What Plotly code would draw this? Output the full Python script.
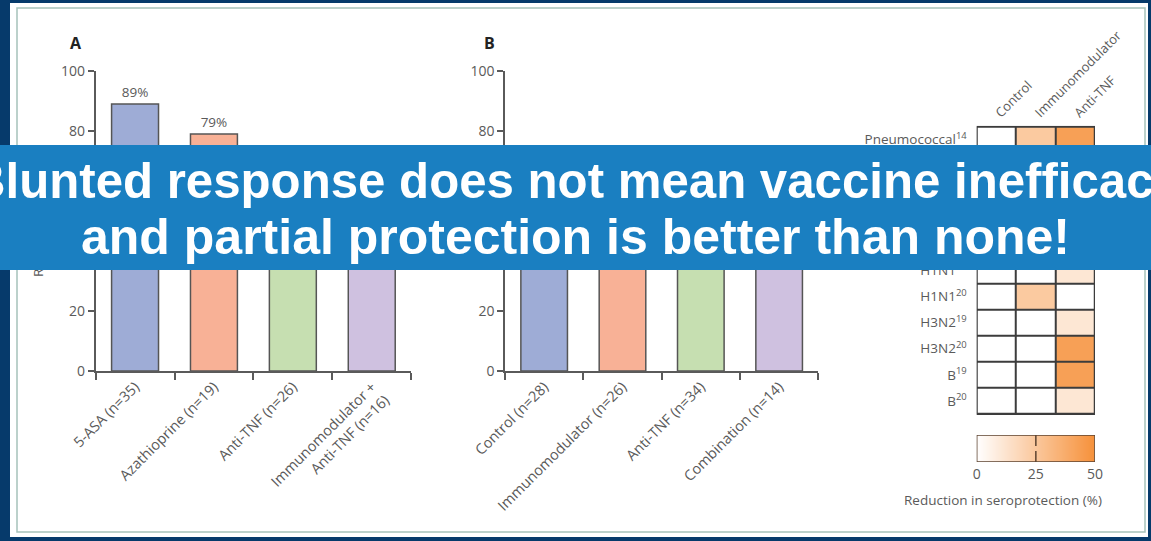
import plotly.graph_objects as go

# ---- Panel A: response rate by treatment ----
a_groups = ["5-ASA (n=35)", "Azathioprine (n=19)", "Anti-TNF (n=26)",
            "Immunomodulator +<br>Anti-TNF (n=16)"]
a_rates = [89, 79, 64, 57]

# ---- Panel B: response rate by treatment ----
b_groups = ["Control (n=28)", "Immunomodulator (n=26)", "Anti-TNF (n=34)",
            "Combination (n=14)"]
b_rates = [61, 58, 52, 43]

bar_colors = ["#9eacd6", "#f8b196", "#c6dfb1", "#cfc1e0"]
rate_ticks = [0, 20, 40, 60, 80, 100]

# ---- Panel C: reduction in seroprotection (%) ----
hm_columns = ["Control", "Immunomodulator", "Anti-TNF"]
hm_rows = ["Pneumococcal<sup>14</sup>", "Pneumococcal<sup>15</sup>",
           "Pneumococcal<sup>16</sup>", "H1N1<sup>17</sup>", "H1N1<sup>18</sup>",
           "H1N1<sup>19</sup>", "H1N1<sup>20</sup>", "H3N2<sup>19</sup>",
           "H3N2<sup>20</sup>", "B<sup>19</sup>", "B<sup>20</sup>"]
hm_control = [0, 0, 0, 0, 0, 0, 0, 0, 0, 0, 0]
hm_immuno = [24, 20, 12, 0, 18, 0, 24, 0, 0, 0, 0]
hm_antitnf = [43, 38, 30, 14, 22, 11, 0, 11, 43, 43, 11]
scale_ends = [0, 50]
scale_ticks = [0, 25, 50]

banner_lines = ["Blunted response does not mean vaccine inefficacy",
                "and partial protection is better than none!"]

W, H = 1151, 541
NAVY = "#063a6b"
TXT = "#5a5a5a"
AX = "#5a5a5a"
GRID = "#3c3c3c"
FONT = "Open Sans"
ORANGE_SCALE = [[0, "#ffffff"], [1, "#f6913a"]]


def fx(px):
    return px / W


def fy(px):
    return 1 - px / H


fig = go.Figure()

for name, groups, rates, xa, ya in [("A", a_groups, a_rates, "x", "y"),
                                     ("B", b_groups, b_rates, "x2", "y2")]:
    fig.add_trace(go.Bar(
        x=groups, y=rates, xaxis=xa, yaxis=ya, name=name,
        marker=dict(color=bar_colors, line=dict(color="#555555", width=1.5)),
        texttemplate="%{y}%", textposition="outside", cliponaxis=False,
        textfont=dict(family=FONT, size=13.5, color=TXT),
        showlegend=False,
    ))

z = [[c, i, a] for c, i, a in zip(hm_control, hm_immuno, hm_antitnf)]
fig.add_trace(go.Heatmap(
    z=z, x=hm_columns, y=hm_rows, xaxis="x3", yaxis="y3",
    colorscale=ORANGE_SCALE, zmin=scale_ends[0], zmax=scale_ends[1],
    xgap=2, ygap=2, showscale=False,
))

# gradient key for the heatmap
fig.add_trace(go.Heatmap(
    z=[scale_ends], x=scale_ends, y=[0], xaxis="x4", yaxis="y4",
    colorscale=ORANGE_SCALE, zmin=scale_ends[0], zmax=scale_ends[1],
    zsmooth="best", showscale=False,
))

bar_ydom = [fy(371), fy(71)]
common = dict(automargin=False, showgrid=False, zeroline=False)
xbar = dict(type="category", range=[-0.5, 3.5], tickson="boundaries",
            ticks="outside", ticklen=7, tickwidth=1.5, tickcolor=AX,
            showline=True, linecolor=AX, linewidth=1.5, tickangle=-45,
            tickfont=dict(family=FONT, size=14.5, color=TXT), **common)
ybar = dict(range=[0, 100], tickvals=rate_ticks, ticks="outside", ticklen=6,
            tickwidth=1.5, tickcolor=AX, showline=True, linecolor=AX,
            linewidth=1.5, tickfont=dict(family=FONT, size=14, color=TXT),
            **common)

fig.update_layout(
    width=W, height=H, margin=dict(l=0, r=0, t=0, b=0, autoexpand=False),
    paper_bgcolor=NAVY, plot_bgcolor="rgba(0,0,0,0)",
    font=dict(family=FONT, color=TXT),
    bargap=0.405,
    xaxis=dict(domain=[fx(95.6), fx(411.2)], anchor="y", **xbar),
    yaxis=dict(domain=bar_ydom, anchor="x", **ybar),
    xaxis2=dict(domain=[fx(505), fx(818.3)], anchor="y2", **xbar),
    yaxis2=dict(domain=bar_ydom, anchor="x2", **ybar),
    xaxis3=dict(domain=[fx(976.7), fx(1095)], anchor="y3", side="top",
                range=[-0.5, 2.5], tickangle=-45, ticks="", showline=False,
                ticklabelstandoff=2,
                tickfont=dict(family=FONT, size=13, color=TXT), **common),
    yaxis3=dict(domain=[fy(415), fy(125.7)], anchor="x3", autorange="reversed",
                ticks="", showline=False, ticklabelstandoff=9,
                tickfont=dict(family=FONT, size=13.5, color=TXT), **common),
    xaxis4=dict(domain=[fx(976.7), fx(1095)], anchor="y4", range=scale_ends,
                tickvals=scale_ticks, ticks="", showline=False,
                ticklabelstandoff=2,
                tickfont=dict(family=FONT, size=14, color=TXT), **common),
    yaxis4=dict(domain=[fy(462), fy(435)], anchor="x4", range=[-0.5, 0.5],
                visible=False, automargin=False),
)

shapes = [
    # white figure panel with its thin border
    dict(type="rect", xref="paper", yref="paper", x0=fx(10), x1=fx(1148),
         y0=fy(537), y1=fy(3), fillcolor="white", line=dict(width=0),
         layer="below"),
    dict(type="rect", xref="paper", yref="paper", x0=fx(17), x1=fx(1145),
         y0=fy(532), y1=fy(8), fillcolor="rgba(0,0,0,0)",
         line=dict(color="#a6c2ba", width=1.5), layer="below"),
    # dark backing behind the heatmap cells forms the grid
    dict(type="rect", xref="x3", yref="y3", x0=-0.5, x1=len(hm_columns) - 0.5,
         y0=-0.5, y1=len(hm_rows) - 0.5, fillcolor=GRID,
         line=dict(color=GRID, width=2), layer="below"),
    # key outline and its dashed midpoint mark
    dict(type="rect", xref="x4", yref="y4", x0=scale_ends[0], x1=scale_ends[1],
         y0=-0.5, y1=0.5, line=dict(color="#5c4330", width=1.5), layer="above"),
    dict(type="line", xref="x4", yref="y4", x0=scale_ticks[1], x1=scale_ticks[1],
         y0=-0.5, y1=0.5, line=dict(color="#5c4330", width=1.5, dash="11px,5px"),
         layer="above"),
]
fig.update_layout(shapes=shapes)


def label(text, xpx, ypx, size, color=TXT, **kw):
    return dict(text=text, x=fx(xpx), y=fy(ypx), xref="paper", yref="paper",
                xanchor="center", yanchor="middle", showarrow=False,
                font=dict(family=FONT, size=size, color=color), **kw)


annotations = [
    label("<b>A</b>", 76, 43, 16, "#222222"),
    label("<b>B</b>", 489, 43, 16, "#222222"),
    label("Response rate (%)", 38, 221, 13.5, textangle=-90),
    label("Reduction in seroprotection (%)", 1003, 500, 13.5),
    # banner band, then its two lines on top
    dict(text=" ", x=0.5, y=fy(207.5), xref="paper", yref="paper",
         xanchor="center", yanchor="middle", showarrow=False,
         width=W, height=125, bgcolor="#1a7fc1", borderpad=0, borderwidth=0),
]
for line, ypx, size in zip(banner_lines, [180, 237], [49.2, 50]):
    annotations.append(dict(
        text="<b>" + line + "</b>", x=0.5, y=fy(ypx), xref="paper",
        yref="paper", xanchor="center", yanchor="middle", showarrow=False,
        font=dict(family="Liberation Sans", size=size, color="white")))
fig.update_layout(annotations=annotations)

fig.write_html("out.html")
